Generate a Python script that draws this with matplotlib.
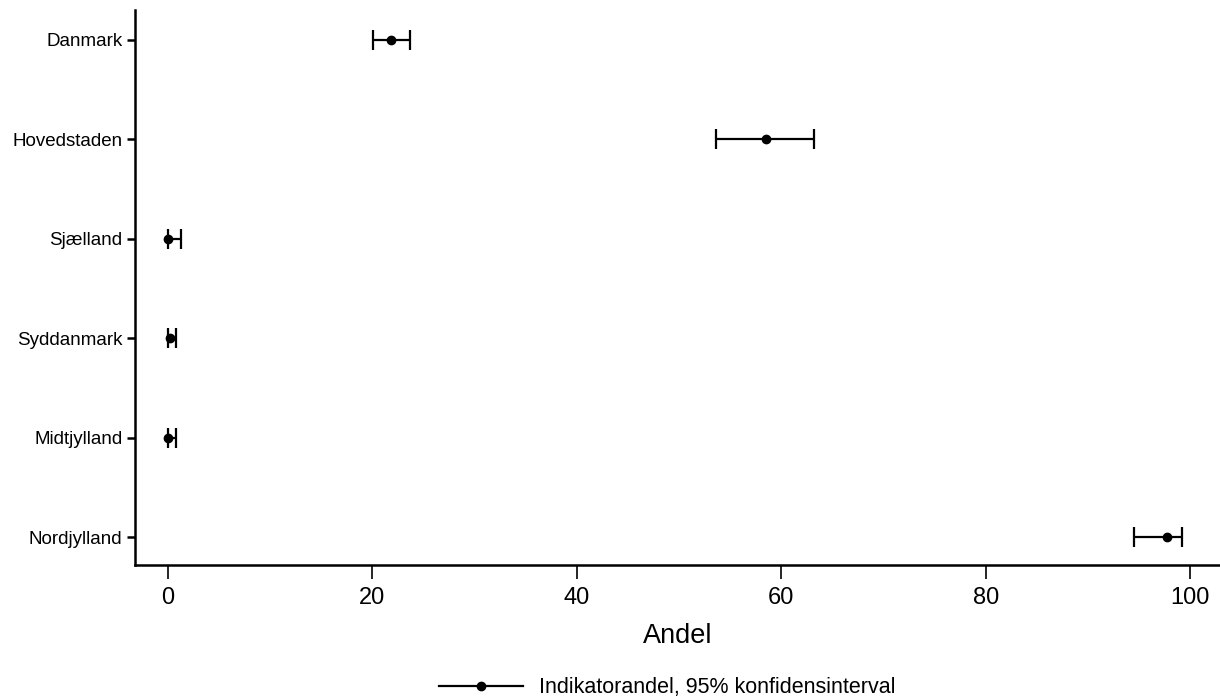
import matplotlib
matplotlib.use("Agg")
import matplotlib.pyplot as plt
from matplotlib.lines import Line2D

# regional indicator shares with 95% confidence limits
regions = ["Danmark", "Hovedstaden", "Sjælland", "Syddanmark", "Midtjylland", "Nordjylland"]
andel = [21.8, 58.5, 0.0, 0.2, 0.0, 97.7]
lower = [20.1, 53.6, 0.0, 0.0, 0.0, 94.5]
upper = [23.7, 63.2, 1.3, 0.8, 0.8, 99.2]
xticks = [0, 20, 40, 60, 80, 100]

plt.rcParams["font.family"] = ["Liberation Sans", "DejaVu Sans"]

fig = plt.figure(figsize=(12.2, 6.99), dpi=100)
ax = fig.add_axes([135 / 1220, 1 - 565 / 699, (1220 - 135) / 1220, (565 - 10) / 699])

ypos = list(range(len(regions)))
xerr = [[a - l for a, l in zip(andel, lower)], [u - a for a, u in zip(andel, upper)]]
ax.errorbar(andel, ypos, xerr=xerr, fmt="o", color="black", ms=6,
            elinewidth=1.6, capsize=7.5, capthick=1.6)

ax.set_xlim(-3.2, 102.9)
ax.set_ylim(len(regions) - 1 + 0.28, -0.3)
ax.set_yticks(ypos)
ax.set_yticklabels(regions, fontsize=13.5)
ax.set_xticks(xticks)
ax.set_xticklabels([str(t) for t in xticks], fontsize=17)
ax.set_xlabel("Andel", fontsize=19.5, labelpad=10)

for side in ("top", "right"):
    ax.spines[side].set_visible(False)
for side in ("left", "bottom"):
    ax.spines[side].set_linewidth(1.8)
ax.tick_params(axis="x", length=10, width=1.2, pad=6)
ax.tick_params(axis="y", length=6, width=1.8, pad=3)

handle = Line2D([0], [0], color="black", lw=1.6, marker="o", ms=6)
fig.legend([handle], ["Indikatorandel, 95% konfidensinterval"],
           loc="center", bbox_to_anchor=(0.547, 1 - 688 / 699), frameon=False,
           fontsize=15.5, handlelength=3.9, handletextpad=0.75,
           borderaxespad=0, borderpad=0)

fig.savefig("out.png")
